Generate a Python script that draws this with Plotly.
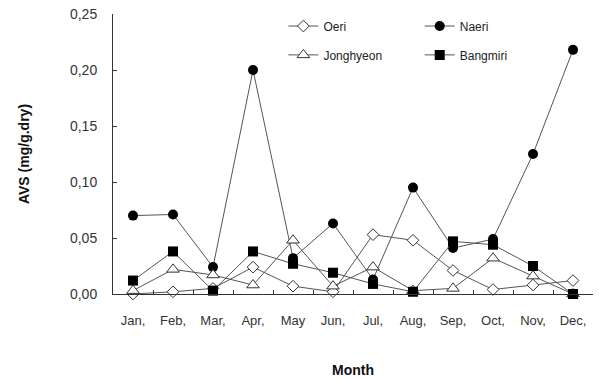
import plotly.graph_objects as go

months = ["Jan,", "Feb,", "Mar,", "Apr,", "May", "Jun,", "Jul,", "Aug,", "Sep,", "Oct,", "Nov,", "Dec,"]
oeri = [0.000, 0.002, 0.005, 0.024, 0.007, 0.002, 0.053, 0.048, 0.021, 0.004, 0.008, 0.012]
naeri = [0.070, 0.071, 0.024, 0.200, 0.032, 0.063, 0.013, 0.095, 0.041, 0.049, 0.125, 0.218]
jonghyeon = [0.003, 0.022, 0.017, 0.008, 0.048, 0.007, 0.024, 0.003, 0.005, 0.032, 0.016, 0.000]
bangmiri = [0.012, 0.038, 0.003, 0.038, 0.027, 0.019, 0.009, 0.002, 0.047, 0.044, 0.025, 0.000]
ytick_vals = [0.0, 0.05, 0.10, 0.15, 0.20, 0.25]
ytick_text = ["0,00", "0,05", "0,10", "0,15", "0,20", "0,25"]

FONT = "Liberation Sans, Arial, sans-serif"
line_style = dict(color="#555555", width=1)

fig = go.Figure()
fig.add_trace(go.Scatter(x=months, y=oeri, name="Oeri", mode="lines+markers", line=line_style,
                         marker=dict(symbol="diamond", size=9, color="white", line=dict(color="#333", width=1)),
                         cliponaxis=False, legend="legend", showlegend=True))
fig.add_trace(go.Scatter(x=months, y=naeri, name="Naeri", mode="lines+markers", line=line_style,
                         marker=dict(symbol="circle", size=10, color="black"),
                         cliponaxis=False, legend="legend2", showlegend=True))
fig.add_trace(go.Scatter(x=months, y=jonghyeon, name="Jonghyeon", mode="lines+markers", line=line_style,
                         marker=dict(symbol="triangle-up", size=11, color="white", line=dict(color="#333", width=1)),
                         cliponaxis=False, legend="legend3", showlegend=True))
fig.add_trace(go.Scatter(x=months, y=bangmiri, name="Bangmiri", mode="lines+markers", line=line_style,
                         marker=dict(symbol="square", size=10, color="black"),
                         cliponaxis=False, legend="legend4", showlegend=True))

legend_common = dict(font=dict(family=FONT, size=12, color="#222"), bgcolor="rgba(0,0,0,0)",
                     itemwidth=30, yanchor="middle", xanchor="left", visible=True)
row1, row2 = 0.957, 0.854
col1, col2 = 0.355, 0.639
fig.update_layout(
    width=599, height=380,
    showlegend=True,
    margin=dict(l=113, r=6, t=14, b=86),
    plot_bgcolor="white", paper_bgcolor="white",
    font=dict(family=FONT, size=13, color="#333"),
    legend=dict(x=col1, y=row1, **legend_common),
    legend2=dict(x=col2, y=row1, **legend_common),
    legend3=dict(x=col1, y=row2, **legend_common),
    legend4=dict(x=col2, y=row2, **legend_common),
    xaxis=dict(
        type="category", range=[-0.5, 11.5], showline=True, linecolor="#333", linewidth=1,
        ticks="inside", ticklen=4, tickcolor="#333", tickson="boundaries", showgrid=False,
        ticklabelstandoff=14,
        tickfont=dict(family=FONT, size=13, color="#333"),
        title=dict(text="<b>Month</b>", font=dict(family=FONT, size=14, color="#111"), standoff=38),
    ),
    yaxis=dict(
        range=[0, 0.25], tickvals=ytick_vals, ticktext=ytick_text, showline=True, linecolor="#333",
        linewidth=1, ticks="inside", ticklen=4, tickcolor="#333", showgrid=False, zeroline=False,
        ticklabelstandoff=12,
        tickfont=dict(family=FONT, size=14, color="#333"),
        title=dict(text="<b>AVS (mg/g.dry)</b>", font=dict(family=FONT, size=14, color="#111"), standoff=37),
    ),
)
fig.write_html("out.html")
